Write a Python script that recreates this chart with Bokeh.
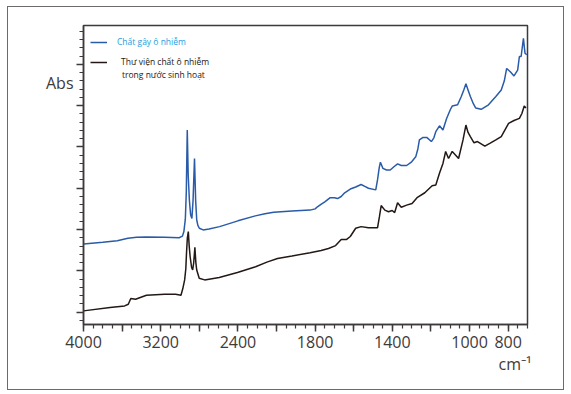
import numpy as np
from bokeh.plotting import figure
from bokeh.models import Range1d, FixedTicker, Label, Legend, LegendItem, LinearAxis, Title
from bokeh.embed import file_html
from bokeh.resources import INLINE

# wavenumbers (cm-1) and absorbance (arbitrary units)
blue_wn = [4000, 3800, 3650, 3540, 3450, 3350, 3160, 3010, 2975, 2960, 2945, 2935, 2925, 2915,
           2903, 2890, 2877, 2865, 2850, 2838, 2827, 2815, 2800, 2760, 2700, 2590, 2400, 2220,
           2120, 2030, 1920, 1826, 1800, 1788, 1770, 1750, 1722, 1700, 1684, 1665, 1647, 1618,
           1590, 1562, 1540, 1524, 1486, 1477, 1468, 1462, 1455, 1449, 1430, 1411, 1392, 1373,
           1354, 1326, 1300, 1279, 1268, 1260, 1241, 1222, 1198, 1185, 1175, 1156, 1138, 1119,
           1100, 1090, 1062, 1043, 1030, 1019, 1008, 996, 980, 968, 940, 902, 864, 836, 820,
           808, 789, 770, 751, 742, 733, 726, 721, 716, 713, 704]
blue_abs = [1.65, 1.69, 1.73, 1.79, 1.81, 1.82, 1.81, 1.80, 1.84, 1.95, 2.25, 2.90, 4.41, 3.30,
            2.71, 2.35, 2.27, 2.70, 3.72, 2.70, 2.23, 2.10, 2.03, 1.99, 2.01, 2.07, 2.21, 2.33,
            2.38, 2.42, 2.45, 2.47, 2.50, 2.55, 2.61, 2.67, 2.77, 2.77, 2.75, 2.80, 2.89, 2.98,
            3.03, 3.09, 3.04, 3.00, 2.96, 3.20, 3.50, 3.63, 3.55, 3.48, 3.44, 3.44, 3.52, 3.59,
            3.55, 3.55, 3.64, 3.76, 3.95, 4.17, 4.23, 4.23, 4.13, 4.22, 4.37, 4.51, 4.41, 4.69,
            4.90, 4.99, 5.02, 5.22, 5.38, 5.53, 5.38, 5.22, 5.04, 4.94, 4.91, 5.02, 5.22, 5.38, 5.60,
            5.90, 5.82, 5.72, 5.86, 6.19, 6.19, 6.45, 6.63, 6.40, 6.27, 6.23]

black_wn = [4000, 3725, 3574, 3536, 3510, 3461, 3348, 3159, 3046, 2990, 2971, 2952, 2940, 2933,
            2924, 2914, 2905, 2895, 2880, 2869, 2858, 2846, 2836, 2827, 2801, 2745, 2594, 2405,
            2217, 2100, 1995, 1920, 1826, 1769, 1731, 1694, 1665, 1637, 1618, 1590, 1562, 1524,
            1477, 1467, 1458, 1439, 1420, 1401, 1388, 1373, 1354, 1326, 1298, 1270, 1232, 1194,
            1175, 1156, 1138, 1124, 1109, 1090, 1072, 1057, 1034, 1019, 1008, 996, 977, 959, 921,
            893, 864, 836, 798, 770, 742, 729, 717, 708]
black_abs = [0.03, 0.11, 0.15, 0.19, 0.33, 0.31, 0.41, 0.43, 0.43, 0.41, 0.57, 0.78, 1.05, 1.42,
             1.80, 1.95, 1.60, 1.34, 1.08, 1.02, 1.20, 1.57, 1.20, 1.02, 0.82, 0.78, 0.84, 0.96,
             1.10, 1.21, 1.30, 1.36, 1.44, 1.49, 1.54, 1.61, 1.76, 1.76, 1.83, 2.03, 2.07, 2.04,
             2.04, 2.31, 2.58, 2.47, 2.43, 2.46, 2.41, 2.65, 2.54, 2.59, 2.63, 2.78, 2.89, 3.06,
             3.08, 3.36, 3.60, 3.89, 3.72, 3.89, 3.80, 3.72, 4.17, 4.53, 4.35, 4.25, 4.10, 4.13, 4.02,
             4.09, 4.17, 4.25, 4.57, 4.64, 4.69, 4.81, 4.99, 4.94]

x_tick_values = [4000, 3600, 3200, 2800, 2400, 2000, 1800, 1600, 1400, 1200, 1000, 800]
x_tick_labels = ["4000", "", "3200", "", "2400", "", "1800", "", "1400", "", "1000", "800"]

series_names = ["Chất gây ô nhiễm", "Thư viện chất ô nhiễm", "trong nước sinh hoạt"]
y_title = "Abs"
x_title = "cm⁻¹"


def axis_u(wn):
    wn = np.asarray(wn, dtype=float)
    # region above 2000 cm-1 is shown at half scale
    return np.where(wn > 2000, 2000 + (wn - 2000) / 2.0, wn)


AX = "#3e3a39"
FONT = "Open Sans"

p = figure(width=555, height=382, output_backend="svg", toolbar_location=None,
           x_range=Range1d(3000, 700), y_range=Range1d(-0.30, 6.94),
           min_border_left=75, min_border_right=36, min_border_top=18, min_border_bottom=65)
p.styles = {"margin": "7px 0 0 8px", "width": "555px", "height": "382px",
            "max-width": "555px", "max-height": "382px",
            "outline": "1px solid #6f6a6a"}
p.grid.visible = False
p.outline_line_color = AX
p.outline_line_width = 1.5

rb = p.line(axis_u(blue_wn), blue_abs, line_color="#2a5ba8", line_width=1.5)
rk = p.line(axis_u(black_wn), black_abs, line_color="#231815", line_width=1.5)

xu = [float(v) for v in axis_u(x_tick_values)]
p.xaxis.ticker = FixedTicker(ticks=xu, minor_ticks=list(np.arange(700, 3001, 50)))
p.xaxis.major_label_overrides = {v: l for v, l in zip(xu, x_tick_labels)}
p.yaxis.ticker = FixedTicker(ticks=list(range(0, 7)),
                             minor_ticks=[round(v, 2) for v in np.arange(-0.2, 6.95, 0.2)])
p.yaxis.major_label_text_font_size = "0px"
p.yaxis.major_label_standoff = 0

for ax in (p.xaxis[0], p.yaxis[0]):
    ax.axis_line_color = AX
    ax.axis_line_width = 1.5
    ax.major_tick_line_color = AX
    ax.minor_tick_line_color = AX
    ax.major_tick_line_width = 1.5
    ax.minor_tick_line_width = 1.2
    ax.major_tick_in = 0
    ax.major_tick_out = 7
    ax.minor_tick_in = 0
    ax.minor_tick_out = 4
p.xaxis.major_label_text_font = FONT
p.xaxis.major_label_text_font_size = "16px"
p.xaxis.major_label_text_color = AX
p.xaxis.major_label_standoff = 4

# "Abs" placed as a tick-less label axis beside the y axis
abs_pos = 5.54
abs_axis = LinearAxis(ticker=FixedTicker(ticks=[abs_pos], minor_ticks=[]),
                      major_label_overrides={abs_pos: y_title},
                      axis_line_color=None, major_tick_line_color=None,
                      minor_tick_line_color=None, major_tick_out=0, major_tick_in=0,
                      major_label_standoff=3, major_label_text_font=FONT,
                      major_label_text_font_size="16px", major_label_text_color=AX)
p.add_layout(abs_axis, "left")

p.add_layout(Title(text=x_title, align="right", text_font=FONT, text_font_size="16px",
                   text_color=AX, text_font_style="normal", standoff=0, offset=-4), "below")

LEG_FS = "8.5px"
leg1 = Legend(items=[LegendItem(label=series_names[0], renderers=[rb])],
              location=(7, 277), glyph_width=17, glyph_height=10, label_height=10,
              label_standoff=10, padding=0, margin=0, border_line_color=None,
              background_fill_alpha=0, label_text_font=FONT,
              label_text_font_size=LEG_FS, label_text_color="#22a0e2")
leg2 = Legend(items=[LegendItem(label=series_names[1], renderers=[rk])],
              location=(7, 257), glyph_width=17, glyph_height=10, label_height=10,
              label_standoff=14, padding=0, margin=0, border_line_color=None,
              background_fill_alpha=0, label_text_font=FONT,
              label_text_font_size=LEG_FS, label_text_color="#231815")
p.add_layout(leg1)
p.add_layout(leg2)
p.add_layout(Label(x=38.5, y=250.5, x_units="screen", y_units="screen", text=series_names[2],
                   text_font=FONT, text_font_size=LEG_FS, text_color="#231815",
                   text_baseline="middle", text_align="left"))

open("out.html", "w").write(file_html(p, INLINE))
